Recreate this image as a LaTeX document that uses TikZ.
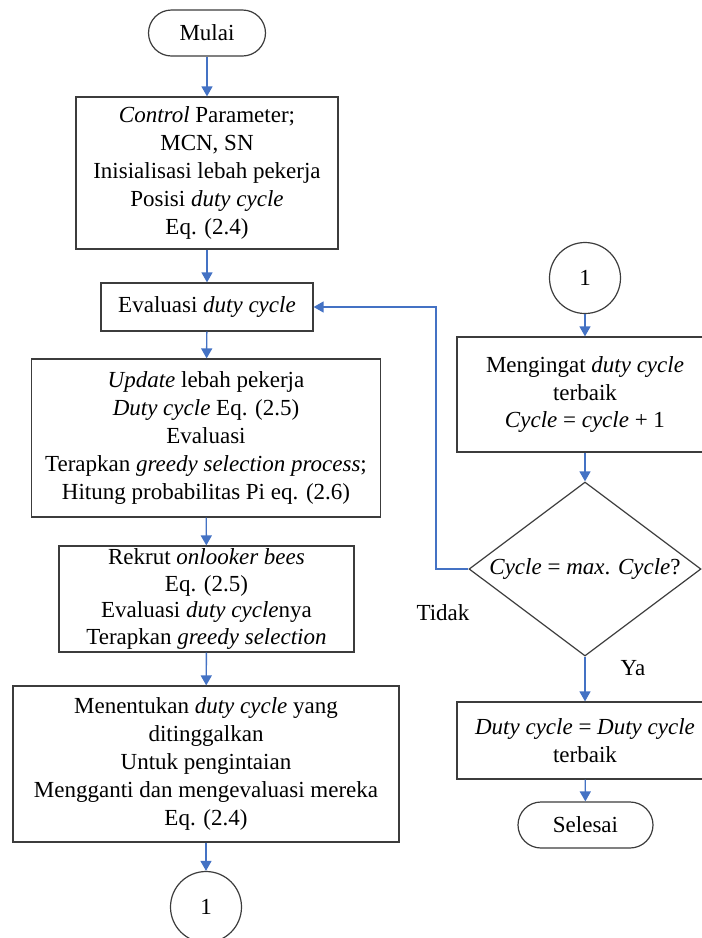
\documentclass[tikz,border=0pt]{standalone}
\usepackage{fontspec}
\setmainfont{Liberation Serif}
\usepackage{tikz}
\usetikzlibrary{shapes.geometric,arrows.meta,positioning,calc}
\usepackage{xcolor}

\definecolor{flowblue}{RGB}{68,114,196}
\definecolor{edgegray}{RGB}{60,60,60}

\tikzset{
  procbox/.style={draw=edgegray, line width=1.2pt, rectangle, align=center, inner sep=0pt},
  termbox/.style={draw=edgegray, line width=1.2pt, rectangle, rounded corners=23pt, inner sep=0pt, minimum height=46pt},
  joinpt/.style={draw=edgegray, line width=1.2pt, circle, inner sep=0pt, minimum size=71pt},
  decidebox/.style={draw=edgegray, line width=1.2pt, diamond, shape aspect=1.33, inner sep=0pt, minimum width=232pt, minimum height=174pt},
  flow/.style={draw=flowblue, line width=1.4pt, -{Triangle[width=11pt,length=10pt]}}
}

\begin{document}
\begin{tikzpicture}[x=1pt, y=-1pt, font=\fontsize{23}{27.8}\selectfont]
            \useasboundingbox (0,0) rectangle (702,938);

            % Left column
            \node[termbox, minimum width=117pt] (mulai) at (207,33) {Mulai};
            \node[procbox, minimum width=262pt, minimum height=152pt] (param) at (207,173)
                {\textit{Control} Parameter;\\ MCN, SN\\ Inisialisasi lebah pekerja\\ Posisi \textit{duty cycle}\\ Eq. (2.4)};
            \node[procbox, minimum width=212pt, minimum height=48pt] (eval) at (207,307)
                {Evaluasi \textit{duty cycle}};
            \node[procbox, minimum width=349pt, minimum height=158pt] (update) at (206,438)
                {\textit{Update} lebah pekerja\\ \textit{Duty cycle} Eq. (2.5)\\ Evaluasi\\ Terapkan \textit{greedy selection process};\\ Hitung probabilitas Pi eq. (2.6)};
            \node[procbox, minimum width=295pt, minimum height=106pt, font=\fontsize{23}{26.4}\selectfont] (rekrut) at (206.5,599)
                {Rekrut \textit{onlooker bees}\\ Eq. (2.5)\\ Evaluasi \textit{duty cycle}nya\\ Terapkan \textit{greedy selection}};
            \node[procbox, minimum width=386pt, minimum height=156pt] (tentukan) at (206,764)
                {Menentukan \textit{duty cycle} yang\\ ditinggalkan\\ Untuk pengintaian\\ Mengganti dan mengevaluasi mereka\\ Eq. (2.4)};
            \node[joinpt] (keluar) at (206,907) {1};

            % Right column
            \node[joinpt] (masuk) at (585,278) {1};
            \node[procbox, minimum width=256pt, minimum height=115pt] (ingat) at (585,394.5)
                {Mengingat \textit{duty cycle}\\ terbaik\\ \textit{Cycle} = \textit{cycle} + 1};
            \node[decidebox] (cek) at (585,569) {\textit{Cycle} = \textit{max}. \textit{Cycle}?};
            \node[procbox, minimum width=256pt, minimum height=77pt] (terbaik) at (585,740.5)
                {\textit{Duty cycle} = \textit{Duty cycle}\\ terbaik};
            \node[termbox, minimum width=135pt] (selesai) at (585.5,825) {Selesai};

            % Labels
            \node (tidak) at (443,613) {Tidak};
            \node (ya) at (633,668) {Ya};

            % Connectors
            \draw[flow] (mulai) -- (param);
            \draw[flow] (param) -- (eval);
            \draw[flow] (eval) -- (update);
            \draw[flow] (update) -- (rekrut);
            \draw[flow] (rekrut) -- (tentukan);
            \draw[flow] (tentukan) -- (keluar);
            \draw[flow] (masuk) -- (ingat);
            \draw[flow] (ingat) -- (cek);
            \draw[flow] (cek) -- (terbaik);
            \draw[flow] (terbaik) -- (selesai);

            % Loop back
            \coordinate (balik) at (436,307);
            \draw[flow] (cek.west) -| (balik) -- (eval.east);
        \end{tikzpicture}
\end{document}
